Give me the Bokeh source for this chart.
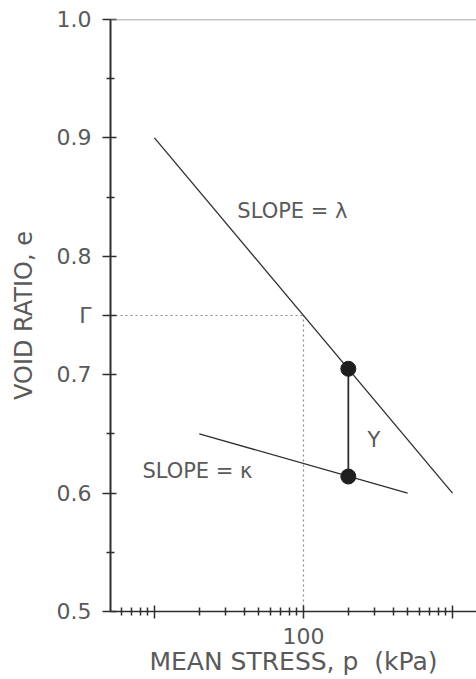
from bokeh.plotting import figure
from bokeh.models import Range1d, FixedTicker, Label, Span
from bokeh.embed import file_html
from bokeh.resources import INLINE

# ---- data ----
lambda_p = [10, 1000]          # normal consolidation line (kPa)
lambda_e = [0.90, 0.60]
kappa_p = [20, 500]            # unload / reload line (kPa)
kappa_e = [0.65, 0.60]
state_p = [200, 200]           # the two marked states
state_e = [0.705, 0.614]
gamma_p = 100                  # reference stress for Gamma
gamma_e = 0.75                 # Gamma

x_major = [10, 100, 1000]
x_major_labels = ["", "100", ""]
y_major = [0.5, 0.6, 0.7, 0.75, 0.8, 0.9, 1.0]
y_major_labels = ["0.5", "0.6", "0.7", "Γ", "0.8", "0.9", "1.0"]
y_minor = [0.55, 0.65, 0.85, 0.95]

FONT = "DejaVu Sans"
TXT = "#5a5a5a"
INK = "#2e2e2e"

x0, x1 = 5.07, 1449
p = figure(width=476, height=679, x_axis_type="log",
           x_range=Range1d(x0, x1), y_range=Range1d(0.5, 1.0),
           output_backend="svg", toolbar_location=None,
           min_border_left=110, min_border_right=0, min_border_top=19,
           min_border_bottom=68)
p.grid.visible = False
p.outline_line_color = None
p.background_fill_color = "white"
p.border_fill_color = "white"

# x axis
xa = p.xaxis[0]
x_minor = [m * 10 ** k for k in (0, 1, 2, 3) for m in range(2, 10)]
xa.ticker = FixedTicker(ticks=x_major, minor_ticks=x_minor)
xa.major_label_overrides = {v: s for v, s in zip(x_major, x_major_labels)}
xa.axis_label = "MEAN STRESS, p\u00a0\u00a0(kPa)"
xa.axis_label_text_font = FONT
xa.axis_label_text_font_style = "normal"
xa.axis_label_text_font_size = "25px"
xa.axis_label_text_color = TXT
xa.axis_label_standoff = 0
xa.major_label_text_font = FONT
xa.major_label_text_font_size = "22px"
xa.major_label_text_color = TXT
xa.major_label_standoff = 9
xa.axis_line_color = INK
xa.axis_line_width = 1.5
xa.major_tick_in = 6
xa.major_tick_out = 7
xa.minor_tick_in = 4
xa.minor_tick_out = 4
xa.major_tick_line_color = INK
xa.minor_tick_line_color = INK
xa.major_tick_line_width = 1.5
xa.minor_tick_line_width = 1.5

# y axis
ya = p.yaxis[0]
ya.ticker = FixedTicker(ticks=y_major, minor_ticks=y_minor)
ya.major_label_overrides = {v: s for v, s in zip(y_major, y_major_labels)}
ya.axis_label = "VOID RATIO, e"
ya.axis_label_text_font = FONT
ya.axis_label_text_font_style = "normal"
ya.axis_label_text_font_size = "24px"
ya.axis_label_text_color = TXT
ya.axis_label_standoff = 16
ya.major_label_text_font = FONT
ya.major_label_text_font_size = "22px"
ya.major_label_text_color = TXT
ya.major_label_standoff = 11
ya.axis_line_color = INK
ya.axis_line_width = 2
ya.major_tick_in = 6
ya.major_tick_out = 8
ya.minor_tick_in = 4
ya.minor_tick_out = 4
ya.major_tick_line_color = INK
ya.minor_tick_line_color = INK
ya.major_tick_line_width = 1.5
ya.minor_tick_line_width = 1.5

# top frame line
p.add_layout(Span(location=1.0, dimension="width", line_color="#8a8a8a", line_width=1.5))

# Gamma guides
p.line([x0, gamma_p], [gamma_e, gamma_e], line_color="#8a8a8a", line_width=1.2, line_dash="2 3")
p.line([gamma_p, gamma_p], [0.5, gamma_e], line_color="#8a8a8a", line_width=1.2, line_dash="2 3")

# lines
p.line(lambda_p, lambda_e, line_color=INK, line_width=1.3)
p.line(kappa_p, kappa_e, line_color=INK, line_width=1.3)
p.line(state_p, state_e, line_color=INK, line_width=1.8)
p.scatter(state_p, state_e, size=15, fill_color="#1e1e1e", line_color="#1e1e1e")

def lab(x, y, t, size="21px"):
    p.add_layout(Label(x=x, y=y, text=t, text_font=FONT, text_font_size=size,
                       text_color=TXT, text_baseline="alphabetic", text_align="left"))

lab(36, 0.8380, "SLOPE = λ")
lab(8.3, 0.619, "SLOPE = κ")
lab(269, 0.645, "Y")

open("out.html", "w").write(file_html(p, INLINE))
